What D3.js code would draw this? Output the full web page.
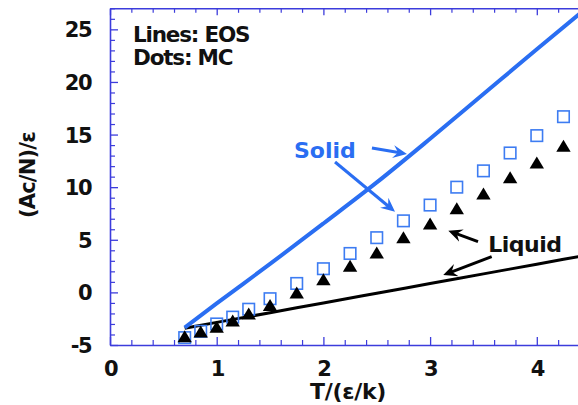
<!DOCTYPE html>
<html>
<head>
<meta charset="utf-8">
<script src="https://cdn.jsdelivr.net/npm/d3@7"></script>
<style>
  html, body { margin: 0; padding: 0; background: #fff; overflow: hidden; }
  svg { display: block; }
  text { font-family: "DejaVu Sans", Verdana, sans-serif; font-weight: bold; }
</style>
</head>
<body>
<svg id="chart" width="578" height="405"></svg>
<script>
// Monte Carlo temperatures, T/(eps/k)
const mcTemps = [0.7, 0.85, 1.0, 1.15, 1.3, 1.5, 1.75, 2.0, 2.25, 2.5, 2.75, 3.0, 3.25, 3.5, 3.75, 4.0, 4.25];
// MC free energy (Ac/N)/eps, solid phase (open squares)
const mcSolid = [-4.3, -3.7, -3.0, -2.35, -1.6, -0.6, 0.85, 2.25, 3.7, 5.2, 6.8, 8.3, 10.0, 11.55, 13.25, 14.9, 16.7];
// MC free energy (Ac/N)/eps, liquid phase (filled triangles)
const mcLiquid = [-4.35, -3.9, -3.45, -2.85, -2.2, -1.4, -0.2, 1.05, 2.35, 3.6, 5.05, 6.35, 7.8, 9.2, 10.75, 12.15, 13.75];

// Equation-of-state curves
const eosTemps = [0.7, 1.0, 1.5, 2.0, 2.5, 3.0, 3.5, 4.0, 4.5];
const eosSolid = [-3.35, -1.05, 2.7, 6.55, 10.45, 14.6, 18.85, 23.1, 27.3];
const eosLiquid = [-3.4, -2.85, -1.93, -1.0, -0.08, 0.84, 1.76, 2.68, 3.6];

// Axis ticks
const xMajorTicks = [0, 1, 2, 3, 4];
const yMajorTicks = [-5, 0, 5, 10, 15, 20, 25];

// Annotations: label text and arrows (tail -> tip) in data units
const solidLabel = { text: "Solid", x: 1.724, y: 12.77 };
const liquidLabel = { text: "Liquid", x: 3.545, y: 3.87 };
const solidArrows = [
  { x1: 2.455, y1: 13.72, x2: 2.783, y2: 13.15 },
  { x1: 2.109, y1: 12.39, x2: 2.671, y2: 7.67 }
];
const liquidArrows = [
  { x1: 3.449, y1: 4.82, x2: 3.171, y2: 5.86 },
  { x1: 3.577, y1: 3.39, x2: 3.123, y2: 1.65 }
];
const legendLines = ["Lines: EOS", "Dots: MC"];

const axisColor = "#3c3cdc";
const solidColor = "#2a6ef2";
const squareColor = "#3d7cf2";
const liquidColor = "#000000";

const svg = d3.select("#chart");
const marginLeft = 110, plotBottom = 345, plotTop = 8.3;
const pxPerX = 106.7;

const x = d3.scaleLinear().domain([0, 5]).range([marginLeft, marginLeft + 5 * pxPerX]);
const y = d3.scaleLinear().domain([-5, 27]).range([plotBottom, plotTop]);

// Clip for the plot area
const defs = svg.append("defs");
defs.append("clipPath").attr("id", "plotClip")
  .append("rect")
  .attr("x", x(0)).attr("y", y(27))
  .attr("width", x(5) - x(0)).attr("height", y(-5) - y(27));

// Arrowhead markers
function addMarker(id, color) {
  defs.append("marker")
    .attr("id", id)
    .attr("viewBox", "-14 -7 16 14")
    .attr("refX", 0).attr("refY", 0)
    .attr("markerWidth", 16).attr("markerHeight", 14)
    .attr("markerUnits", "userSpaceOnUse")
    .attr("orient", "auto")
    .append("path")
    .attr("d", "M0,0 L-14,-6.5 L-9,0 L-14,6.5 Z")
    .attr("fill", color);
}
addMarker("arrowBlue", solidColor);
addMarker("arrowBlack", liquidColor);

// Axes (ticks point inward)
const xMinor = d3.range(0, 5.001, 0.2).filter(v => Math.abs(v - Math.round(v)) > 1e-6);
const yMinor = d3.range(-5, 27.001, 1).filter(v => v % 5 !== 0);
const plainNumber = d => String(d);

function styleAxis(g) {
  g.select(".domain").attr("stroke", axisColor).attr("stroke-width", 1.6);
  g.selectAll(".tick line").attr("stroke", axisColor).attr("stroke-width", 1.3);
}
function styleMinor(g) {
  g.select(".domain").remove();
  g.selectAll(".tick line").attr("stroke", axisColor).attr("stroke-width", 1.2);
}
function styleTickText(g) {
  g.selectAll(".tick text")
    .attr("fill", "#111").attr("font-size", 21).attr("letter-spacing", -1.5)
    .attr("font-family", "DejaVu Sans").attr("font-weight", "bold");
}

// bottom axis
const gx = svg.append("g").attr("transform", `translate(0,${plotBottom})`)
  .call(d3.axisBottom(x).tickValues(xMajorTicks).tickSizeInner(-8).tickSizeOuter(0).tickPadding(16).tickFormat(plainNumber));
styleAxis(gx);
styleTickText(gx);
svg.append("g").attr("transform", `translate(0,${plotBottom})`)
  .call(d3.axisBottom(x).tickValues(xMinor).tickSizeInner(-5).tickSizeOuter(0).tickFormat(""))
  .call(styleMinor);

// top axis
const gxt = svg.append("g").attr("transform", `translate(0,${y(27)})`)
  .call(d3.axisTop(x).tickValues(xMajorTicks).tickSizeInner(-7).tickSizeOuter(0).tickFormat(""));
styleAxis(gxt);
svg.append("g").attr("transform", `translate(0,${y(27)})`)
  .call(d3.axisTop(x).tickValues(xMinor).tickSizeInner(-4.5).tickSizeOuter(0).tickFormat(""))
  .call(styleMinor);

// left axis
const gy = svg.append("g").attr("transform", `translate(${marginLeft},0)`)
  .call(d3.axisLeft(y).tickValues(yMajorTicks).tickSizeInner(-8).tickSizeOuter(0).tickPadding(19).tickFormat(plainNumber));
styleAxis(gy);
styleTickText(gy);
gy.selectAll(".tick text").attr("dy", "0.36em");
svg.append("g").attr("transform", `translate(${marginLeft},0)`)
  .call(d3.axisLeft(y).tickValues(yMinor).tickSizeInner(-5).tickSizeOuter(0).tickFormat(""))
  .call(styleMinor);

// Axis titles
svg.append("text")
  .attr("x", 348).attr("y", 398.5)
  .attr("text-anchor", "middle")
  .attr("font-size", 22).attr("letter-spacing", -0.3)
  .attr("fill", "#111")
  .text("T/(ε/k)");
svg.append("text")
  .attr("transform", "translate(35,175) rotate(-90)")
  .attr("text-anchor", "middle")
  .attr("font-size", 21).attr("letter-spacing", -0.8)
  .attr("fill", "#111")
  .text("(Ac/N)/ε");

// Plot contents
const plot = svg.append("g").attr("clip-path", "url(#plotClip)");

const line = d3.line().x(d => x(d[0])).y(d => y(d[1])).curve(d3.curveMonotoneX);

plot.append("path")
  .datum(d3.zip(eosTemps, eosLiquid))
  .attr("d", line)
  .attr("fill", "none").attr("stroke", liquidColor).attr("stroke-width", 3);

plot.append("path")
  .datum(d3.zip(eosTemps, eosSolid))
  .attr("d", line)
  .attr("fill", "none").attr("stroke", solidColor).attr("stroke-width", 4);

// MC solid: open squares
const sq = 11.5;
plot.selectAll("rect.mc-solid")
  .data(d3.zip(mcTemps, mcSolid))
  .join("rect")
  .attr("class", "mc-solid")
  .attr("x", d => x(d[0]) - sq / 2)
  .attr("y", d => y(d[1]) - sq / 2)
  .attr("width", sq).attr("height", sq)
  .attr("fill", "none")
  .attr("stroke", squareColor).attr("stroke-width", 1.6);

// MC liquid: filled triangles (centred on centroid)
const triHalf = 7.2, triH = 12;
plot.selectAll("path.mc-liquid")
  .data(d3.zip(mcTemps, mcLiquid))
  .join("path")
  .attr("class", "mc-liquid")
  .attr("transform", d => `translate(${x(d[0])},${y(d[1])})`)
  .attr("d", `M0,${-triH * 2 / 3} L${triHalf},${triH / 3} L${-triHalf},${triH / 3} Z`)
  .attr("fill", liquidColor);

// Annotation arrows: shaft stops short of the tip, head placed at the tip
function drawArrows(arrows, color, markerId) {
  const g = svg.append("g");
  arrows.forEach(d => {
    const x1 = x(d.x1), y1 = y(d.y1), x2 = x(d.x2), y2 = y(d.y2);
    const len = Math.hypot(x2 - x1, y2 - y1);
    const k = (len - 7) / len;
    g.append("line")
      .attr("x1", x1).attr("y1", y1)
      .attr("x2", x1 + (x2 - x1) * k).attr("y2", y1 + (y2 - y1) * k)
      .attr("stroke", color).attr("stroke-width", 3);
    g.append("path")
      .attr("d", `M${x1 + (x2 - x1) * 0.9},${y1 + (y2 - y1) * 0.9}L${x2},${y2}`)
      .attr("stroke", "none").attr("fill", "none")
      .attr("marker-end", `url(#${markerId})`);
  });
}
drawArrows(solidArrows, solidColor, "arrowBlue");
drawArrows(liquidArrows, liquidColor, "arrowBlack");

svg.append("text")
  .attr("x", x(solidLabel.x)).attr("y", y(solidLabel.y))
  .attr("font-size", 22)
  .attr("fill", solidColor)
  .text(solidLabel.text);
svg.append("text")
  .attr("x", x(liquidLabel.x)).attr("y", y(liquidLabel.y))
  .attr("font-size", 22).attr("letter-spacing", -0.5)
  .attr("fill", "#111")
  .text(liquidLabel.text);

// Legend note
svg.append("g")
  .selectAll("text")
  .data(legendLines)
  .join("text")
  .attr("x", marginLeft + 23)
  .attr("y", (d, i) => 41.7 + i * 23.3)
  .attr("font-size", 21.5).attr("letter-spacing", -1.2)
  .attr("fill", "#111")
  .text(d => d);
</script>
</body>
</html>
